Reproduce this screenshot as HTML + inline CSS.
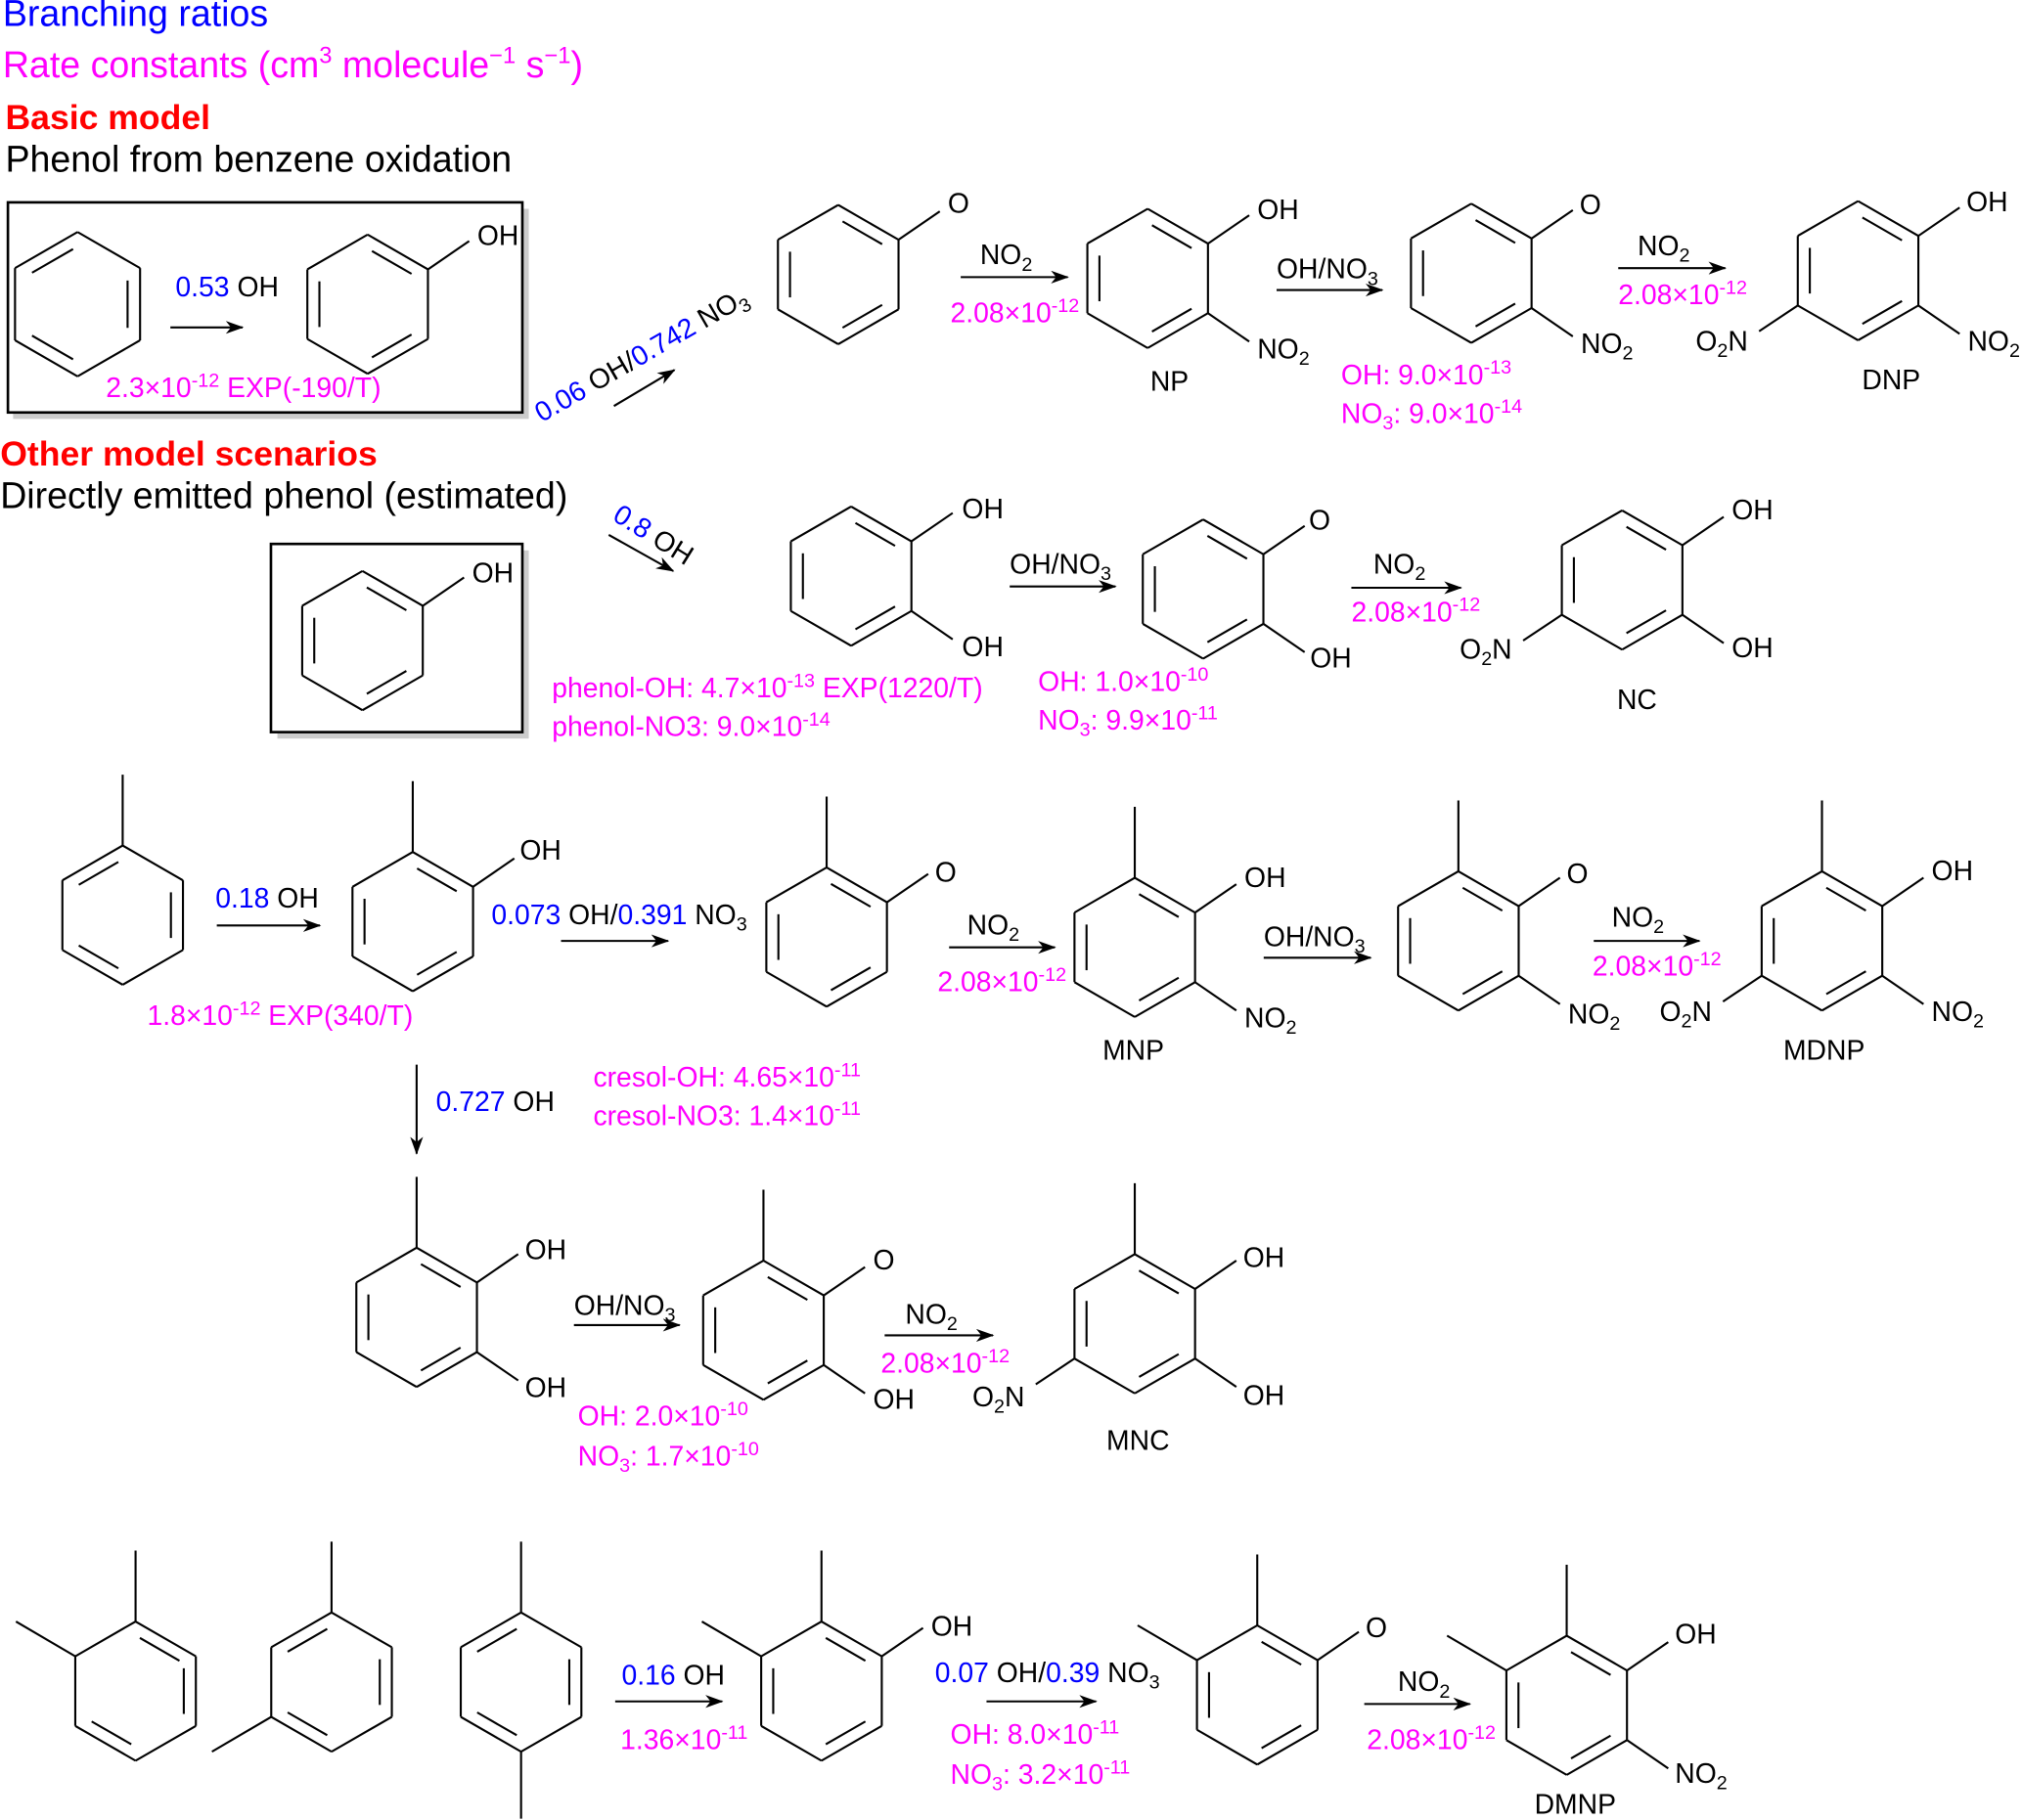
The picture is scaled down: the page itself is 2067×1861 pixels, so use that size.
<!DOCTYPE html>
<html><head><meta charset="utf-8"><style>
html,body{margin:0;padding:0;background:#fff;}
svg{display:block;}
text{font-family:"Liberation Sans",Arial,sans-serif;font-size:21.5px;}
.b{fill:#0000ff}.m{fill:#ff00ff}.k{fill:#000}.r{fill:#ff0000;font-weight:bold;font-size:27px}
.h{font-size:28.5px}
</style></head><body>
<svg id="s" width="2067" height="1861" viewBox="0 0 1568 1412" xmlns="http://www.w3.org/2000/svg">
<defs><marker id="ah" markerWidth="14" markerHeight="10" refX="13" refY="5" orient="auto" markerUnits="userSpaceOnUse"><path d="M0,0 L14,5 L0,10 L4,5z" fill="#000"/></marker></defs>
<g id="g" stroke="#000" stroke-width="1.6" fill="none"></g>
<rect x="10" y="162" width="400" height="163" fill="#ccc"/>
<rect x="6" y="157" width="399" height="163" fill="#fff" stroke="#000" stroke-width="2"/>
<rect x="215" y="427" width="195" height="146" fill="#ccc"/>
<rect x="210" y="422" width="195" height="146" fill="#fff" stroke="#000" stroke-width="2"/>
<g id="g2" stroke="#000" stroke-width="1.6" fill="none"></g>

<text x="2" y="20" class="b h">Branching ratios</text>
<text x="2" y="60" class="m h">Rate constants (cm<tspan dy="-11" font-size="18">3</tspan><tspan dy="11"> molecule</tspan><tspan dy="-11" font-size="18">−1</tspan><tspan dy="11"> s</tspan><tspan dy="-11" font-size="18">−1</tspan><tspan dy="11">)</tspan></text>
<text x="4" y="100" class="r">Basic model</text>
<text x="4" y="133" class="k h">Phenol from benzene oxidation</text>
<text x="0" y="361" class="r">Other model scenarios</text>
<text x="0" y="394" class="k h">Directly emitted phenol (estimated)</text>

<text x="136" y="230"><tspan class="b">0.53</tspan> OH</text>
<text x="82" y="308" class="m">2.3×10<tspan dy="-8" font-size="15">-12</tspan><tspan dy="8"> EXP(-190/T)</tspan></text>
<text x="370" y="190">OH</text>
<text transform="translate(420,328) rotate(-30)"><tspan class="b">0.06</tspan> OH/<tspan class="b">0.742</tspan> NO<tspan dy="5" font-size="15">3</tspan></text>
<text x="735" y="165">O</text>
<text x="760" y="205">NO<tspan dy="5" font-size="15">2</tspan></text>
<text x="737" y="250" class="m">2.08×10<tspan dy="-8" font-size="15">-12</tspan></text>
<text x="975" y="170">OH</text>
<text x="975" y="278">NO<tspan dy="5" font-size="15">2</tspan></text>
<text x="892" y="303">NP</text>
<text x="990" y="216">OH/NO<tspan dy="5" font-size="15">3</tspan></text>
<text x="1225" y="166">O</text>
<text x="1226" y="274">NO<tspan dy="5" font-size="15">2</tspan></text>
<text x="1040" y="298" class="m">OH: 9.0×10<tspan dy="-8" font-size="15">-13</tspan></text>
<text x="1040" y="328" class="m">NO<tspan dy="5" font-size="15">3</tspan><tspan dy="-5">: 9.0×10</tspan><tspan dy="-8" font-size="15">-14</tspan></text>
<text x="1270" y="198">NO<tspan dy="5" font-size="15">2</tspan></text>
<text x="1255" y="236" class="m">2.08×10<tspan dy="-8" font-size="15">-12</tspan></text>
<text x="1525" y="164">OH</text>
<text x="1526" y="272">NO<tspan dy="5" font-size="15">2</tspan></text>
<text x="1315" y="272">O<tspan dy="5" font-size="15">2</tspan><tspan dy="-5">N</tspan></text>
<text x="1444" y="302">DNP</text>

<text x="366" y="452">OH</text>
<text transform="translate(474,403) rotate(32)"><tspan class="b">0.8</tspan> OH</text>
<text x="746" y="402">OH</text>
<text x="746" y="509">OH</text>
<text x="428" y="541" class="m">phenol-OH: 4.7×10<tspan dy="-8" font-size="15">-13</tspan><tspan dy="8"> EXP(1220/T)</tspan></text>
<text x="428" y="571" class="m">phenol-NO3: 9.0×10<tspan dy="-8" font-size="15">-14</tspan></text>
<text x="783" y="445">OH/NO<tspan dy="5" font-size="15">3</tspan></text>
<text x="1015" y="411">O</text>
<text x="1016" y="518">OH</text>
<text x="805" y="536" class="m">OH: 1.0×10<tspan dy="-8" font-size="15">-10</tspan></text>
<text x="805" y="566" class="m">NO<tspan dy="5" font-size="15">3</tspan><tspan dy="-5">: 9.9×10</tspan><tspan dy="-8" font-size="15">-11</tspan></text>
<text x="1065" y="445">NO<tspan dy="5" font-size="15">2</tspan></text>
<text x="1048" y="482" class="m">2.08×10<tspan dy="-8" font-size="15">-12</tspan></text>
<text x="1343" y="403">OH</text>
<text x="1343" y="510">OH</text>
<text x="1132" y="511">O<tspan dy="5" font-size="15">2</tspan><tspan dy="-5">N</tspan></text>
<text x="1254" y="550">NC</text>

<text x="167" y="704"><tspan class="b">0.18</tspan> OH</text>
<text x="403" y="667">OH</text>
<text x="114" y="795" class="m">1.8×10<tspan dy="-8" font-size="15">-12</tspan><tspan dy="8"> EXP(340/T)</tspan></text>
<text x="381" y="717"><tspan class="b">0.073</tspan> OH/<tspan class="b">0.391</tspan> NO<tspan dy="5" font-size="15">3</tspan></text>
<text x="725" y="684">O</text>
<text x="750" y="725">NO<tspan dy="5" font-size="15">2</tspan></text>
<text x="727" y="769" class="m">2.08×10<tspan dy="-8" font-size="15">-12</tspan></text>
<text x="965" y="688">OH</text>
<text x="965" y="797">NO<tspan dy="5" font-size="15">2</tspan></text>
<text x="855" y="822">MNP</text>
<text x="980" y="734">OH/NO<tspan dy="5" font-size="15">3</tspan></text>
<text x="1215" y="685">O</text>
<text x="1216" y="794">NO<tspan dy="5" font-size="15">2</tspan></text>
<text x="1250" y="719">NO<tspan dy="5" font-size="15">2</tspan></text>
<text x="1235" y="757" class="m">2.08×10<tspan dy="-8" font-size="15">-12</tspan></text>
<text x="1498" y="683">OH</text>
<text x="1498" y="792">NO<tspan dy="5" font-size="15">2</tspan></text>
<text x="1287" y="792">O<tspan dy="5" font-size="15">2</tspan><tspan dy="-5">N</tspan></text>
<text x="1383" y="822">MDNP</text>
<text x="338" y="862"><tspan class="b">0.727</tspan> OH</text>
<text x="460" y="843" class="m">cresol-OH: 4.65×10<tspan dy="-8" font-size="15">-11</tspan></text>
<text x="460" y="873" class="m">cresol-NO3: 1.4×10<tspan dy="-8" font-size="15">-11</tspan></text>

<text x="407" y="977">OH</text>
<text x="407" y="1084">OH</text>
<text x="445" y="1020">OH/NO<tspan dy="5" font-size="15">3</tspan></text>
<text x="677" y="985">O</text>
<text x="677" y="1093">OH</text>
<text x="448" y="1106" class="m">OH: 2.0×10<tspan dy="-8" font-size="15">-10</tspan></text>
<text x="448" y="1137" class="m">NO<tspan dy="5" font-size="15">3</tspan><tspan dy="-5">: 1.7×10</tspan><tspan dy="-8" font-size="15">-10</tspan></text>
<text x="702" y="1027">NO<tspan dy="5" font-size="15">2</tspan></text>
<text x="683" y="1065" class="m">2.08×10<tspan dy="-8" font-size="15">-12</tspan></text>
<text x="964" y="983">OH</text>
<text x="964" y="1090">OH</text>
<text x="754" y="1091">O<tspan dy="5" font-size="15">2</tspan><tspan dy="-5">N</tspan></text>
<text x="858" y="1125">MNC</text>

<text x="482" y="1307"><tspan class="b">0.16</tspan> OH</text>
<text x="481" y="1357" class="m">1.36×10<tspan dy="-8" font-size="15">-11</tspan></text>
<text x="722" y="1269">OH</text>
<text x="725" y="1305"><tspan class="b">0.07</tspan> OH/<tspan class="b">0.39</tspan> NO<tspan dy="5" font-size="15">3</tspan></text>
<text x="737" y="1353" class="m">OH: 8.0×10<tspan dy="-8" font-size="15">-11</tspan></text>
<text x="737" y="1384" class="m">NO<tspan dy="5" font-size="15">3</tspan><tspan dy="-5">: 3.2×10</tspan><tspan dy="-8" font-size="15">-11</tspan></text>
<text x="1059" y="1270">O</text>
<text x="1084" y="1312">NO<tspan dy="5" font-size="15">2</tspan></text>
<text x="1060" y="1357" class="m">2.08×10<tspan dy="-8" font-size="15">-12</tspan></text>
<text x="1299" y="1275">OH</text>
<text x="1299" y="1383">NO<tspan dy="5" font-size="15">2</tspan></text>
<text x="1190" y="1407">DMNP</text>
</svg>
<script>
var NS="http://www.w3.org/2000/svg";
function L(g,x1,y1,x2,y2,arrow){var l=document.createElementNS(NS,"line");l.setAttribute("x1",x1);l.setAttribute("y1",y1);l.setAttribute("x2",x2);l.setAttribute("y2",y2);if(arrow)l.setAttribute("marker-end","url(#ah)");document.getElementById(g).appendChild(l);}
function V(cx,cy,r,i){var a=(-90+60*i)*Math.PI/180;return [cx+r*Math.cos(a),cy+r*Math.sin(a)];}
function R(g,cx,cy,r,dbl,subs){
 for(var i=0;i<6;i++){var a=V(cx,cy,r,i),b=V(cx,cy,r,(i+1)%6);L(g,a[0],a[1],b[0],b[1]);
  if(dbl.indexOf(i)>=0){var a2=V(cx,cy,r*0.8,i),b2=V(cx,cy,r*0.8,(i+1)%6);
   var mx=(a2[0]+b2[0])/2,my=(a2[1]+b2[1])/2;var s=0.82;
   L(g,mx+(a2[0]-mx)*s,my+(a2[1]-my)*s,mx+(b2[0]-mx)*s,my+(b2[1]-my)*s);}}
 (subs||[]).forEach(function(t){var a=V(cx,cy,r,t[0]);L(g,a[0],a[1],a[0]+t[1],a[1]+t[2]);});
}
var P=[0,2,4];
var M=[0,0,-55];
R("g2",60,236,56,[5,1,3]);
R("g2",285,236,54,P,[[1,32,-22]]);
L("g2",132,254,188,254,1);
L("g",476,315,523,287,1);
R("g",650,213,54,P,[[1,32,-22]]);
L("g",745,215,828,215,1);
R("g",890,216,54,P,[[1,32,-22],[2,32,22]]);
L("g",990,225,1072,225,1);
R("g",1141,212,54,P,[[1,32,-22],[2,32,22]]);
L("g",1255,208,1338,208,1);
R("g",1441,210,54,P,[[1,32,-22],[2,32,22],[4,-30,20]]);
R("g2",281,497,54,P,[[1,32,-22]]);
L("g",472,415,522,443,1);
R("g",660,447,54,P,[[1,32,-22],[2,32,22]]);
L("g",783,455,865,455,1);
R("g",933,457,54,P,[[1,32,-22],[2,32,22]]);
L("g",1048,456,1133,456,1);
R("g",1258,450,54,P,[[1,32,-22],[2,32,22],[4,-30,20]]);
R("g",95,710,54,[5,1,3],[M]);
L("g",168,718,248,718,1);
R("g",320,715,54,P,[M,[1,32,-22]]);
L("g",435,730,518,730,1);
R("g",641,727,54,P,[M,[1,32,-22]]);
L("g",736,735,818,735,1);
R("g",880,735,54,P,[M,[1,32,-22],[2,32,22]]);
L("g",980,743,1063,743,1);
R("g",1131,730,54,P,[M,[1,32,-22],[2,32,22]]);
L("g",1236,730,1318,730,1);
R("g",1413,730,54,P,[M,[1,32,-22],[2,32,22],[4,-30,20]]);
L("g",323,826,323,895,1);
R("g",323,1022,54,P,[M,[1,32,-22],[2,32,22]]);
L("g",445,1028,527,1028,1);
R("g",592,1032,54,P,[M,[1,32,-22],[2,32,22]]);
L("g",686,1036,770,1036,1);
R("g",880,1027,54,P,[M,[1,32,-22],[2,32,22],[4,-30,20]]);
R("g",105,1312,54,[0,1,3],[M,[5,-46,-27]]);
R("g",257,1305,54,[5,1,3],[M,[4,-46,27]]);
R("g",404,1305,54,[5,1,3],[M,[3,0,52]]);
L("g",477,1320,560,1320,1);
R("g",637,1312,54,P,[M,[5,-46,-27],[1,32,-22]]);
L("g",765,1320,850,1320,1);
R("g",975,1315,54,P,[M,[5,-46,-27],[1,32,-22]]);
L("g",1058,1322,1140,1322,1);
R("g",1215,1323,54,P,[M,[5,-46,-27],[1,32,-22],[2,32,22]]);
</script>
</body></html>
